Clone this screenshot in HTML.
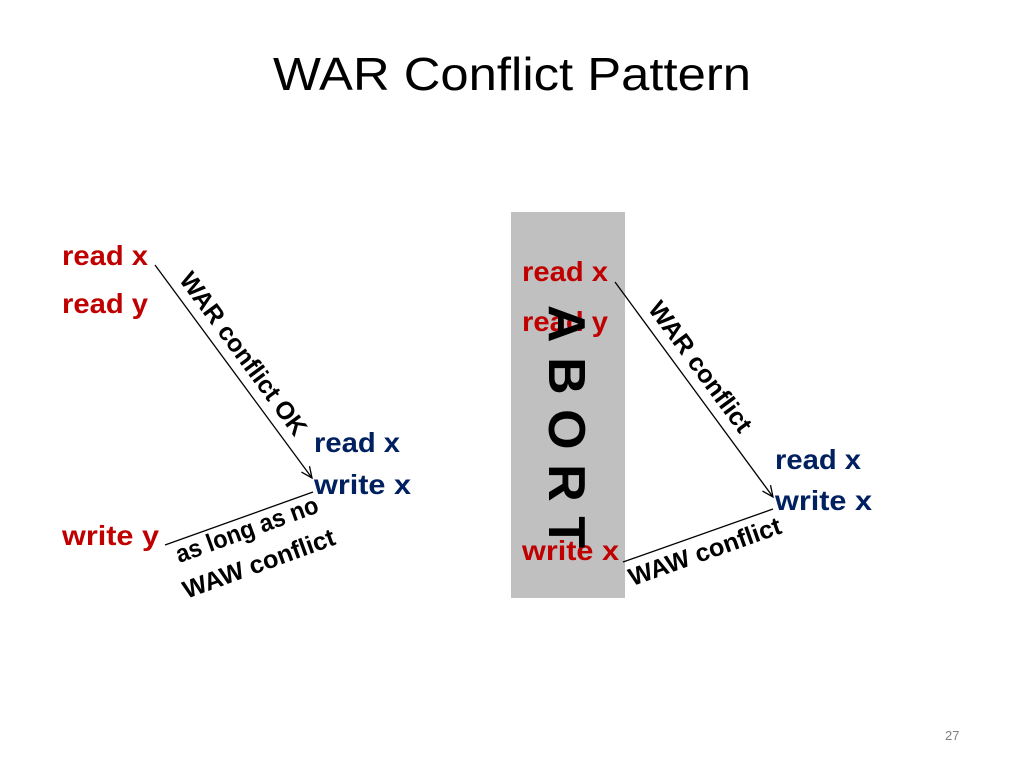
<!DOCTYPE html>
<html><head><meta charset="utf-8"><style>
html,body{margin:0;padding:0;background:#fff;}
svg{display:block;font-family:"Liberation Sans",sans-serif;}
.r{fill:#c00000;font-weight:bold;font-size:28px;}
.b{fill:#002060;font-weight:bold;font-size:28px;}
.l{fill:#000;font-weight:bold;font-size:25px;}
</style></head><body>
<svg width="1024" height="768" viewBox="0 0 1024 768">
<defs><marker id="ah" markerWidth="14" markerHeight="14" refX="12" refY="6" orient="auto" markerUnits="userSpaceOnUse"><path d="M1,1 L12,6 L1,11" fill="none" stroke="#000" stroke-width="1.3"/></marker></defs>
<text x="512" y="90" text-anchor="middle" font-size="46" fill="#000" textLength="478" lengthAdjust="spacingAndGlyphs">WAR Conflict Pattern</text>
<rect x="511" y="212" width="114" height="386" fill="#c0c0c0"/>
<text class="r" x="62" y="265" textLength="86" lengthAdjust="spacingAndGlyphs">read x</text>
<text class="r" x="62" y="313" textLength="86" lengthAdjust="spacingAndGlyphs">read y</text>
<text class="r" x="62" y="545" textLength="97" lengthAdjust="spacingAndGlyphs">write y</text>
<text class="b" x="314" y="452" textLength="86" lengthAdjust="spacingAndGlyphs">read x</text>
<text class="b" x="314" y="494" textLength="97" lengthAdjust="spacingAndGlyphs">write x</text>
<line x1="155" y1="265" x2="312" y2="478" stroke="#000" stroke-width="1.3" marker-end="url(#ah)"/>
<line x1="165" y1="545" x2="313" y2="492" stroke="#000" stroke-width="1.3"/>
<text class="l" transform="translate(243,354) rotate(53.6)" text-anchor="middle" dy="8" textLength="196" lengthAdjust="spacingAndGlyphs">WAR conflict OK</text>
<text class="l" transform="translate(247,530) rotate(-20)" text-anchor="middle" dy="8" textLength="150" lengthAdjust="spacingAndGlyphs">as long as no</text>
<text class="l" transform="translate(259,564) rotate(-20)" text-anchor="middle" dy="8" textLength="160" lengthAdjust="spacingAndGlyphs">WAW conflict</text>
<text class="r" x="522" y="281" textLength="86" lengthAdjust="spacingAndGlyphs">read x</text>
<text class="r" x="522" y="331" textLength="86" lengthAdjust="spacingAndGlyphs">read y</text>
<text class="r" x="522" y="560" textLength="97" lengthAdjust="spacingAndGlyphs">write x</text>
<text transform="translate(567,305) rotate(90)" font-size="52" font-weight="bold" fill="#000" dy="18" textLength="243" lengthAdjust="spacing">ABORT</text>
<text class="b" x="775" y="469" textLength="86" lengthAdjust="spacingAndGlyphs">read x</text>
<text class="b" x="775" y="510" textLength="97" lengthAdjust="spacingAndGlyphs">write x</text>
<line x1="615" y1="282" x2="773" y2="497" stroke="#000" stroke-width="1.3" marker-end="url(#ah)"/>
<line x1="623" y1="562" x2="773" y2="509" stroke="#000" stroke-width="1.3"/>
<text class="l" transform="translate(700,367) rotate(53.6)" text-anchor="middle" dy="8" textLength="156" lengthAdjust="spacingAndGlyphs">WAR conflict</text>
<text class="l" transform="translate(705,552) rotate(-19.5)" text-anchor="middle" dy="8" textLength="160" lengthAdjust="spacingAndGlyphs">WAW conflict</text>
<text x="945" y="740" font-size="13" fill="#7f7f7f">27</text>
</svg>
</body></html>
